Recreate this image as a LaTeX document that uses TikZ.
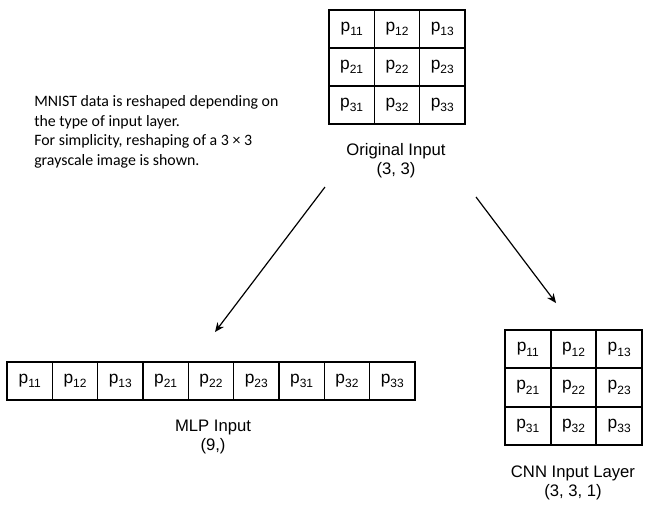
\documentclass[tikz,border=0pt]{standalone}
\usepackage{fontspec}
\setmainfont{Liberation Sans}
\newfontfamily\notefont{Carlito}

\tikzset{
  pix/.style={draw, line width=1.2pt, inner sep=0pt,
    minimum width=34pt, minimum height=28.5pt,
    font=\fontsize{13}{15}\selectfont},
  caption/.style={align=center, font=\fontsize{12.5}{14.4}\selectfont},
  flow/.style={-{Stealth[length=7pt,width=6pt]}, line width=0.9pt}
}
\usetikzlibrary{arrows.meta}

\begin{document}
\begin{tikzpicture}[x=0.75pt,y=-0.75pt]
\useasboundingbox (0,0) rectangle (652,519);

% original 3x3 input
\foreach \i in {1,2,3}
  \foreach \j in {1,2,3}
    \node[pix] (o\i\j) at ({329+45.33*(\j-0.5)},{10+38*(\i-0.5)}) {p\raisebox{-0.5ex}{\fontsize{9}{9}\selectfont\i\j}};
\node[caption] (olabel) at (396,161) {Original Input\\(3, 3)};

% note
\node[anchor=north west, align=left, inner sep=0pt,
  font=\notefont\fontsize{11.9}{14.8}\selectfont] (note) at (34,95)
  {MNIST data is reshaped depending on\\the type of input layer.\\
   For simplicity, reshaping of a 3 × 3\\grayscale image is shown.};

% flattened MLP input
\foreach \i in {1,2,3}
  \foreach \j in {1,2,3}
    \node[pix] (m\i\j) at ({7+45.33*(3*\i+\j-3.5)},381) {p\raisebox{-0.5ex}{\fontsize{9}{9}\selectfont\i\j}};
\node[caption] (mlabel) at (213,437) {MLP Input\\(9,)};

% CNN input with channel
\foreach \i in {1,2,3}
  \foreach \j in {1,2,3}
    \node[pix] (c\i\j) at ({505+45.67*(\j-0.5)},{330+38.3*(\i-0.5)}) {p\raisebox{-0.5ex}{\fontsize{9}{9}\selectfont\i\j}};
\node[caption] (clabel) at (573,483) {CNN Input Layer\\(3, 3, 1)};

% arrows
\coordinate (a1) at (325,187);
\coordinate (b1) at (215,332);
\coordinate (a2) at (476,197);
\coordinate (b2) at (556,303);
\draw[flow] (a1) -- (b1);
\draw[flow] (a2) -- (b2);

\end{tikzpicture}
\end{document}
